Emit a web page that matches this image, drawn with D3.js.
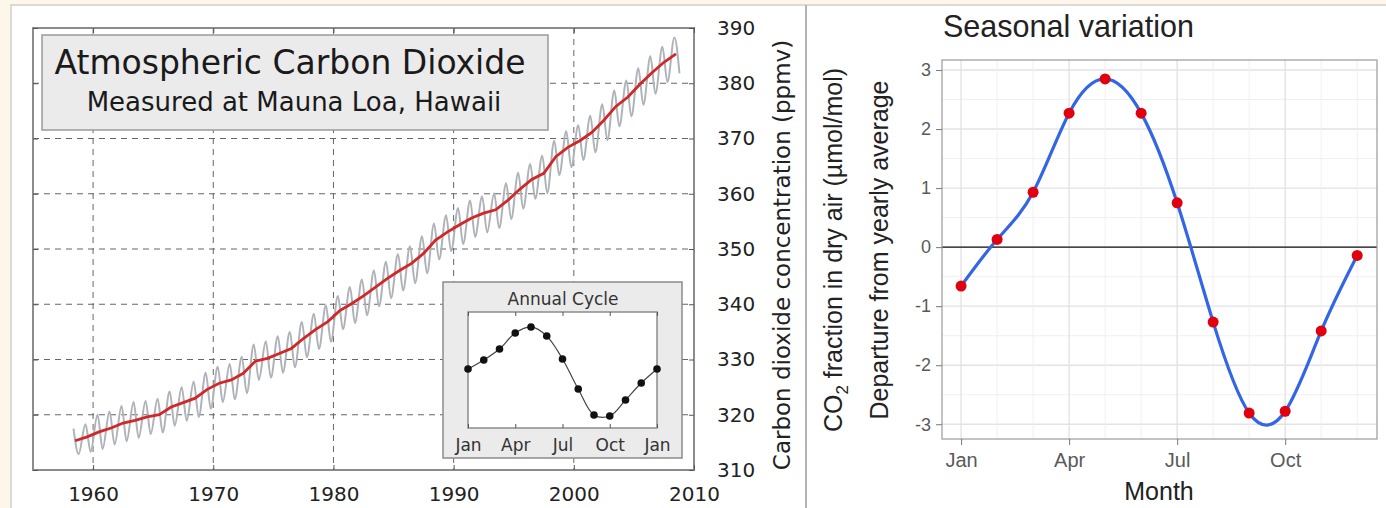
<!DOCTYPE html>
<html>
<head>
<meta charset="utf-8">
<script src="https://cdn.jsdelivr.net/npm/d3@7"></script>
<style>
body { margin: 0; background: #fdf7e9; }
svg { display: block; }
</style>
</head>
<body>
<svg id="chart" width="1386" height="508"></svg>
<script>
/*** data: Mauna Loa record ***/
var years = [1958, 1959, 1960, 1961, 1962, 1963, 1964, 1965, 1966, 1967,
             1968, 1969, 1970, 1971, 1972, 1973, 1974, 1975, 1976, 1977,
             1978, 1979, 1980, 1981, 1982, 1983, 1984, 1985, 1986, 1987,
             1988, 1989, 1990, 1991, 1992, 1993, 1994, 1995, 1996, 1997,
             1998, 1999, 2000, 2001, 2002, 2003, 2004, 2005, 2006, 2007, 2008];
// yearly average (red line)
var annualCO2 = [315.3, 316.0, 316.9, 317.6, 318.5, 319.0, 319.6, 320.0, 321.4, 322.2,
                 323.0, 324.6, 325.7, 326.3, 327.5, 329.7, 330.2, 331.1, 332.0, 333.8,
                 335.4, 336.8, 338.8, 340.1, 341.5, 343.1, 344.7, 346.1, 347.4, 349.2,
                 351.6, 353.1, 354.4, 355.6, 356.5, 357.1, 358.8, 360.8, 362.6, 363.7,
                 366.7, 368.4, 369.6, 371.1, 373.3, 375.8, 377.5, 379.8, 381.9, 383.8, 385.3];
// monthly record, May maximum and October minimum of each year (grey line)
var peakCO2 = [317.5, 318.3, 320.0, 320.6, 321.6, 322.3, 322.5, 322.9, 324.2, 325.0,
               326.0, 327.6, 328.7, 329.2, 330.5, 332.7, 333.3, 334.2, 335.0, 336.8,
               338.3, 339.8, 341.5, 343.1, 344.5, 346.1, 347.7, 349.1, 350.5, 352.3,
               354.6, 356.1, 357.4, 358.8, 359.5, 360.1, 361.9, 363.8, 365.4, 366.9,
               369.6, 371.3, 372.4, 374.1, 376.2, 378.7, 380.5, 382.7, 384.9, 386.6, 388.3];
var troughCO2 = [312.9, 313.3, 313.8, 314.6, 315.2, 315.8, 316.5, 316.8, 318.0, 318.9,
                 319.6, 321.1, 322.3, 322.8, 323.9, 326.3, 326.7, 327.6, 328.6, 330.4,
                 331.9, 333.2, 335.5, 336.6, 338.0, 339.6, 341.1, 342.5, 343.8, 345.6,
                 348.1, 349.6, 350.9, 352.2, 353.0, 353.8, 355.4, 357.3, 359.1, 360.1,
                 363.4, 364.8, 366.1, 367.5, 369.7, 372.2, 374.0, 376.1, 378.1, 380.2, 381.8];
var yearTicks = [1960, 1970, 1980, 1990, 2000, 2010];
var ppmTicks = [310, 320, 330, 340, 350, 360, 370, 380, 390];

/*** data: inset annual cycle ***/
var cycleMonths = ["Jan", "Feb", "Mar", "Apr", "May", "Jun", "Jul",
                   "Aug", "Sep", "Oct", "Nov", "Dec", "Jan"];
var cycleCO2 = [0.07, 0.69, 1.45, 2.55, 2.97, 2.34, 0.76, -1.31, -3.1, -3.17, -2.07, -0.9, 0.07];
var cycleTicks = [0, 3, 6, 9, 12];

/*** data: seasonal variation ***/
var months = [1, 2, 3, 4, 5, 6, 7, 8, 9, 10, 11, 12];
var departure = [-0.66, 0.13, 0.93, 2.27, 2.85, 2.27, 0.75, -1.27, -2.81, -2.78, -1.42, -0.14];
var monthTicks = [1, 4, 7, 10];
var monthNames = ["Jan", "Apr", "Jul", "Oct"];
var departureTicks = [-3, -2, -1, 0, 1, 2, 3];
var departureGrid = [-3, -2.5, -2, -1.5, -1, -0.5, 0, 0.5, 1, 1.5, 2, 2.5, 3];

var svg = d3.select("#chart");
svg.append("rect").attr("width", 1386).attr("height", 508).attr("fill", "#fdf7e9");
svg.append("rect").attr("x", 11).attr("y", 5).attr("width", 1376).attr("height", 504)
   .attr("fill", "#fff").attr("stroke", "#cfcfcf").attr("stroke-width", 1.5);
svg.append("line").attr("x1", 806).attr("x2", 806).attr("y1", 5).attr("y2", 508)
   .attr("stroke", "#b4b4b4").attr("stroke-width", 2);

function noDomain(g) { g.select(".domain").remove(); }

/**** Left chart ****/
var L = svg.append("g").attr("font-family", "DejaVu Sans");
var x = d3.scaleLinear().domain([1955, 2010]).range([33, 694]);
var y = d3.scaleLinear().domain([310, 390]).range([470, 28]);

L.append("g").selectAll("line").data(yearTicks.slice(0, -1)).enter().append("line")
  .attr("x1", function(d) { return x(d); }).attr("x2", function(d) { return x(d); })
  .attr("y1", y(390)).attr("y2", y(310))
  .attr("stroke", "#666").attr("stroke-dasharray", "6,5");
L.append("g").selectAll("line").data(ppmTicks.slice(1, -1)).enter().append("line")
  .attr("y1", function(d) { return y(d); }).attr("y2", function(d) { return y(d); })
  .attr("x1", x(1955)).attr("x2", x(2010))
  .attr("stroke", "#666").attr("stroke-dasharray", "6,5");

var monthly = [];
for (var i = 0; i < years.length; i++) {
  monthly.push([years[i] + 0.37, peakCO2[i]]);
  monthly.push([years[i] + 0.79, troughCO2[i]]);
}
L.append("path").datum(monthly)
  .attr("d", d3.line().x(function(d) { return x(d[0]); }).y(function(d) { return y(d[1]); })
        .curve(d3.curveMonotoneX))
  .attr("fill", "none").attr("stroke", "#aeb3b9").attr("stroke-width", 2);
L.append("path").datum(years)
  .attr("d", d3.line().x(function(d) { return x(d + 0.5); })
        .y(function(d, i) { return y(annualCO2[i]); }))
  .attr("fill", "none").attr("stroke", "#d02828").attr("stroke-width", 2.8);

L.append("rect").attr("x", x(1955)).attr("y", y(390))
  .attr("width", x(2010) - x(1955)).attr("height", y(310) - y(390))
  .attr("fill", "none").attr("stroke", "#8c8c8c").attr("stroke-width", 2);

var bx = L.append("g").attr("transform", "translate(0," + y(310) + ")")
  .call(d3.axisBottom(x).tickValues(yearTicks).tickSize(-5).tickPadding(17).tickFormat(d3.format("d")))
  .call(noDomain);
bx.attr("font-size", 20).attr("font-family", "DejaVu Sans").attr("color", "#555");
bx.selectAll("text").attr("fill", "#222");
L.append("g").attr("transform", "translate(0," + y(390) + ")")
  .call(d3.axisTop(x).tickValues(yearTicks).tickSize(-5).tickFormat(""))
  .call(noDomain).attr("color", "#555");
var ry = L.append("g").attr("transform", "translate(" + x(2010) + ",0)")
  .call(d3.axisRight(y).tickValues(ppmTicks).tickSize(-5).tickPadding(23))
  .call(noDomain);
ry.attr("font-size", 20).attr("font-family", "DejaVu Sans").attr("color", "#555");
ry.selectAll("text").attr("fill", "#222");
L.append("g").attr("transform", "translate(" + x(1955) + ",0)")
  .call(d3.axisLeft(y).tickValues(ppmTicks).tickSize(-5).tickFormat(""))
  .call(noDomain).attr("color", "#555");

L.append("text").attr("transform", "translate(790,255) rotate(-90)")
  .attr("text-anchor", "middle").attr("font-size", 23).attr("fill", "#222")
  .text("Carbon dioxide concentration (ppmv)");

// title box
L.append("rect").attr("x", 42).attr("y", 35).attr("width", 506).attr("height", 95)
  .attr("fill", "#ebebeb").attr("stroke", "#9a9a9a").attr("stroke-width", 1.5);
L.append("text").attr("x", 290).attr("y", 74).attr("text-anchor", "middle")
  .attr("font-size", 33).attr("fill", "#1a1a1a").text("Atmospheric Carbon Dioxide");
L.append("text").attr("x", 294).attr("y", 111).attr("text-anchor", "middle")
  .attr("font-size", 26).attr("fill", "#1a1a1a").text("Measured at Mauna Loa, Hawaii");

// inset
var I = L.append("g");
var ix = d3.scaleLinear().domain([0, 12]).range([468, 657]);
var iy = d3.scaleLinear().domain([-4, 4]).range([428, 312]);
I.append("rect").attr("x", 443).attr("y", 282).attr("width", 239).attr("height", 176)
  .attr("fill", "#ebebeb").attr("stroke", "#8c8c8c").attr("stroke-width", 1.5);
I.append("rect").attr("x", ix(0)).attr("y", iy(4))
  .attr("width", ix(12) - ix(0)).attr("height", iy(-4) - iy(4))
  .attr("fill", "#fff").attr("stroke", "#8c8c8c").attr("stroke-width", 1.5);
I.append("text").attr("x", 563).attr("y", 305).attr("text-anchor", "middle")
  .attr("font-size", 17).attr("fill", "#333").text("Annual Cycle");
var ib = I.append("g").attr("transform", "translate(0," + iy(-4) + ")")
  .call(d3.axisBottom(ix).tickValues(cycleTicks).tickSize(-4).tickPadding(11)
        .tickFormat(function(d) { return cycleMonths[d]; }))
  .call(noDomain);
ib.attr("font-size", 17).attr("font-family", "DejaVu Sans").attr("color", "#555");
ib.selectAll("text").attr("fill", "#333");
I.append("g").attr("transform", "translate(0," + iy(4) + ")")
  .call(d3.axisTop(ix).tickValues(cycleTicks).tickSize(-4).tickFormat(""))
  .call(noDomain).attr("color", "#555");
I.append("path").datum(cycleCO2)
  .attr("d", d3.line().x(function(d, i) { return ix(i); }).y(function(d) { return iy(d); })
        .curve(d3.curveCatmullRom))
  .attr("fill", "none").attr("stroke", "#444").attr("stroke-width", 1.2);
I.append("g").selectAll("circle").data(cycleCO2).enter().append("circle")
  .attr("cx", function(d, i) { return ix(i); }).attr("cy", function(d) { return iy(d); })
  .attr("r", 3.8).attr("fill", "#111");

/**** Right chart ****/
var R = svg.append("g").attr("font-family", "Liberation Sans, Arial, sans-serif");
var sx = d3.scaleLinear().domain([0.47, 12.55]).range([942, 1377]);
var sy = d3.scaleLinear().domain([-3.25, 3.17]).range([439, 60]);

R.append("g").selectAll("line").data(departureGrid).enter().append("line")
  .attr("x1", sx.range()[0]).attr("x2", sx.range()[1])
  .attr("y1", function(d) { return sy(d); }).attr("y2", function(d) { return sy(d); })
  .attr("stroke", function(d) { return d % 1 === 0 ? "#e3e3e3" : "#f0f0f0"; })
  .attr("stroke-width", function(d) { return d % 1 === 0 ? 1.4 : 1; });
R.append("g").selectAll("line").data(months).enter().append("line")
  .attr("y1", sy.range()[0]).attr("y2", sy.range()[1])
  .attr("x1", function(d) { return sx(d); }).attr("x2", function(d) { return sx(d); })
  .attr("stroke", function(d) { return monthTicks.indexOf(d) >= 0 ? "#e3e3e3" : "#f0f0f0"; })
  .attr("stroke-width", function(d) { return monthTicks.indexOf(d) >= 0 ? 1.4 : 1; });

R.append("line").attr("x1", sx.range()[0]).attr("x2", sx.range()[1])
  .attr("y1", sy(0)).attr("y2", sy(0)).attr("stroke", "#111").attr("stroke-width", 1.3);

R.append("path").datum(departure)
  .attr("d", d3.line().x(function(d, i) { return sx(months[i]); }).y(function(d) { return sy(d); })
        .curve(d3.curveNatural))
  .attr("fill", "none").attr("stroke", "#3366e6").attr("stroke-width", 3.2);
R.append("g").selectAll("circle").data(departure).enter().append("circle")
  .attr("cx", function(d, i) { return sx(months[i]); }).attr("cy", function(d) { return sy(d); })
  .attr("r", 5.5).attr("fill", "#e1000e");

R.append("rect").attr("x", 942).attr("y", 60).attr("width", 435).attr("height", 379)
  .attr("fill", "none").attr("stroke", "#9a9a9a").attr("stroke-width", 1.2);

var sl = R.append("g").attr("transform", "translate(942,0)")
  .call(d3.axisLeft(sy).tickValues(departureTicks).tickSize(6).tickPadding(5)
        .tickFormat(function(d) { return String(d); }))
  .call(noDomain);
sl.attr("font-size", 18).attr("font-family", "Liberation Sans, Arial, sans-serif").attr("color", "#777");
sl.selectAll("text").attr("fill", "#5a5a5a");
var sb = R.append("g").attr("transform", "translate(0,439)")
  .call(d3.axisBottom(sx).tickValues(monthTicks).tickSize(6).tickPadding(8)
        .tickFormat(function(d) { return monthNames[monthTicks.indexOf(d)]; }))
  .call(noDomain);
sb.attr("font-size", 20).attr("font-family", "Liberation Sans, Arial, sans-serif").attr("color", "#777");
sb.selectAll("text").attr("fill", "#5a5a5a");

R.append("text").attr("x", 943).attr("y", 37).attr("font-size", 30.5).attr("fill", "#222")
  .text("Seasonal variation");
R.append("text").attr("x", 1159).attr("y", 500).attr("text-anchor", "middle")
  .attr("font-size", 25).attr("fill", "#222").text("Month");
var t1 = R.append("text").attr("transform", "translate(842,250) rotate(-90)")
  .attr("text-anchor", "middle").attr("font-size", 25).attr("fill", "#222");
t1.append("tspan").text("CO");
t1.append("tspan").attr("font-size", 17).attr("dy", 6).text("2");
t1.append("tspan").attr("dy", -6).text(" fraction in dry air (µmol/mol)");
R.append("text").attr("transform", "translate(888,250) rotate(-90)")
  .attr("text-anchor", "middle").attr("font-size", 25).attr("fill", "#222")
  .text("Departure from yearly average");
</script>
</body>
</html>
